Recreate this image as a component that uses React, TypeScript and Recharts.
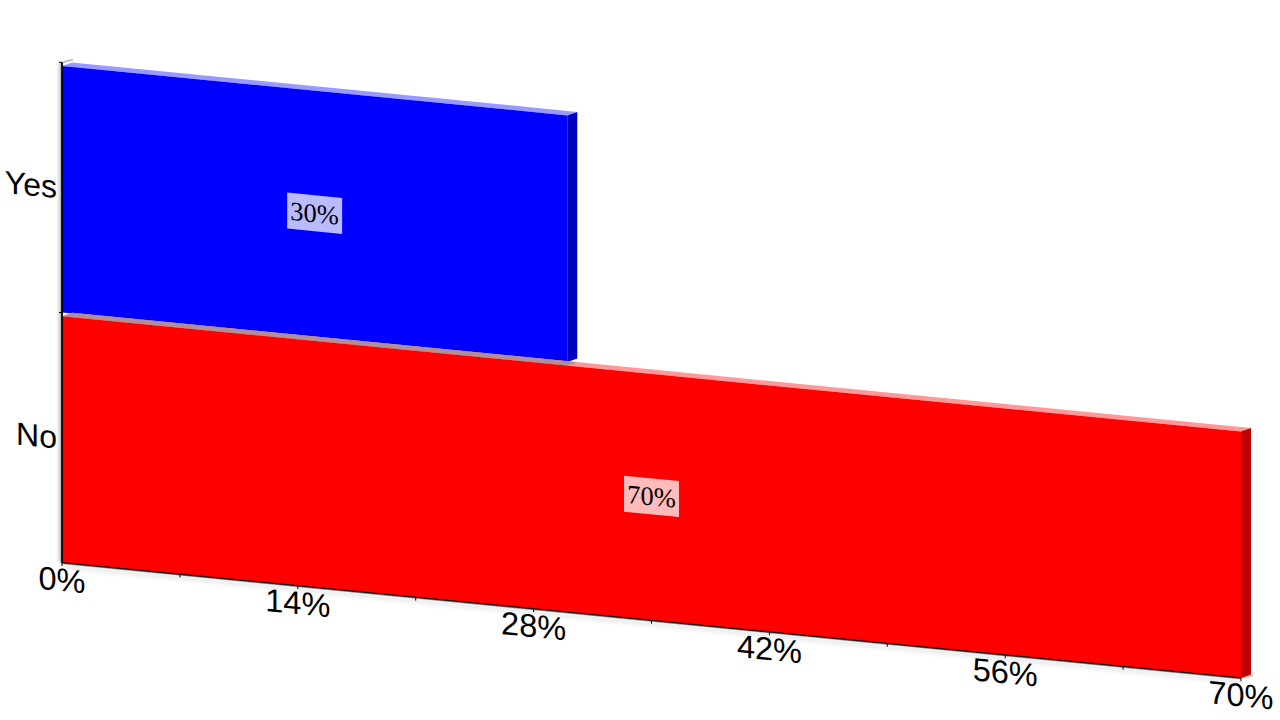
import { BarChart, Bar, XAxis, YAxis, LabelList } from "recharts";

const categories = ["Yes", "No"];
const percentages = [30, 70];
const xTicks = [0, 7, 14, 21, 28, 35, 42, 49, 56, 63, 70];
const labelledTicks = [0, 14, 28, 42, 56, 70];

const frontColors = ["#0000ff", "#ff0000"];
const sideColors = ["#0000bf", "#bf0000"];
const topColors = ["#9999ff", "#ff9999"];

const data = categories.map((name, i) => ({ name, value: percentages[i] }));

const WIDTH = 1280;
const HEIGHT = 720;
const SKEW = 0.0978;
const LEFT = 62;
const TOP = 62.5;
const BOTTOM = 157;
const BAND = (HEIGHT - TOP - BOTTOM) / categories.length;
const DEPTH_X = 10;
const DEPTH_Y = 4.5;
const INSET = 3.5;
const SANS = "'Liberation Sans', Arial, sans-serif";

function Box3D(props: any) {
  const { x, y, width, height, index } = props;
  const front = y + INSET;
  const right = x + width;
  const bottom = y + height;
  const prevRight = index > 0 ? x + (width * percentages[index - 1]) / percentages[index] : x;
  return (
    <g>
      {index === 0 && (
        <line x1={x} y1={y} x2={x + 11} y2={y - 4} stroke="#c4c4c4" strokeWidth={2} />
      )}
      {index === categories.length - 1 && (
        <line x1={right} y1={bottom} x2={right + 12} y2={bottom - 4} stroke="#c4c4c4" strokeWidth={2} />
      )}
      <polygon
        points={`${x},${front} ${x + DEPTH_X},${front - DEPTH_Y} ${right + DEPTH_X},${front - DEPTH_Y} ${right},${front}`}
        fill={topColors[index]}
      />
      {index > 0 && (
        <polygon
          points={`${x},${front} ${x + DEPTH_X},${front - DEPTH_Y} ${prevRight + DEPTH_X},${front - DEPTH_Y} ${prevRight},${front}`}
          fill="#b09098"
        />
      )}
      <polygon
        points={`${right},${front} ${right + DEPTH_X},${front - DEPTH_Y} ${right + DEPTH_X},${bottom - DEPTH_Y} ${right},${bottom}`}
        fill={sideColors[index]}
      />
      <rect x={x} y={front} width={width} height={height - INSET} fill={frontColors[index]} />
      {/* axis lines sit under the bars, so redraw the edges they share */}
      <line x1={x} x2={x} y1={y} y2={bottom} stroke="#000000" strokeWidth={1.3} />
      {index === categories.length - 1 && (
        <line x1={x} x2={right} y1={bottom} y2={bottom} stroke="#222222" strokeWidth={1} />
      )}
    </g>
  );
}

function ValueTag(props: any) {
  const { x, y, width, height, value } = props;
  const cx = x + width / 2;
  const cy = y + height / 2 + 1;
  return (
    <g>
      <rect x={cx - 27.5} y={cy - 18} width={55} height={36} fill="#ffffff" fillOpacity={0.73} />
      <text
        x={cx}
        y={cy + 9}
        textAnchor="middle"
        fontSize={26.5}
        fontFamily="'Liberation Serif', serif"
        fill="#000000"
      >
        {value}%
      </text>
    </g>
  );
}

function CategoryTick(props: any) {
  const { x, y, payload } = props;
  return (
    <g>
      <line x1={x + 5} x2={x + 8} y1={y - BAND / 2} y2={y - BAND / 2} stroke="#000000" />
      <text x={x + 3} y={y + 11} textAnchor="end" fontSize={32} fontFamily={SANS} fill="#000000">
        {payload.value}
      </text>
    </g>
  );
}

export default function App() {
  return (
    <div
      style={{
        position: "absolute",
        left: 0,
        top: 0,
        width: WIDTH,
        height: HEIGHT,
        background: "#ffffff",
        transformOrigin: "0 0",
        transform: `matrix(1, ${SKEW}, 0, 1, 0, ${-SKEW * LEFT})`,
      }}
    >
      <BarChart
        width={WIDTH}
        height={HEIGHT}
        data={data}
        layout="vertical"
        barCategoryGap={0}
        margin={{ top: TOP, right: 39, bottom: 0, left: 0 }}
      >
        <defs>
          <filter id="floorShadow" filterUnits="userSpaceOnUse" x={0} y={0} width={WIDTH} height={HEIGHT}>
            <feDropShadow dx={0} dy={3} stdDeviation={2.5} floodColor="#000000" floodOpacity={0.4} />
          </filter>
          <filter id="wallShadow" filterUnits="userSpaceOnUse" x={0} y={0} width={WIDTH} height={HEIGHT}>
            <feDropShadow dx={-2} dy={0} stdDeviation={1.5} floodColor="#000000" floodOpacity={0.4} />
          </filter>
        </defs>
        <XAxis
          type="number"
          domain={[0, 70]}
          ticks={xTicks}
          interval={0}
          height={BOTTOM}
          tickSize={3}
          tickMargin={2}
          axisLine={{ stroke: "#000000", strokeWidth: 1, filter: "url(#floorShadow)" }}
          tickLine={{ stroke: "#000000" }}
          tick={{ fontSize: 32.5, fontFamily: SANS, fill: "#000000" }}
          tickFormatter={(v: number) => (labelledTicks.includes(v) ? `${v}%` : "")}
        />
        <YAxis
          type="category"
          dataKey="name"
          width={LEFT}
          interval={0}
          tickLine={false}
          axisLine={{ stroke: "#000000", strokeWidth: 1.5, filter: "url(#wallShadow)" }}
          tick={CategoryTick}
        />
        <Bar dataKey="value" shape={Box3D} isAnimationActive={false}>
          <LabelList dataKey="value" content={ValueTag} />
        </Bar>
      </BarChart>
    </div>
  );
}
